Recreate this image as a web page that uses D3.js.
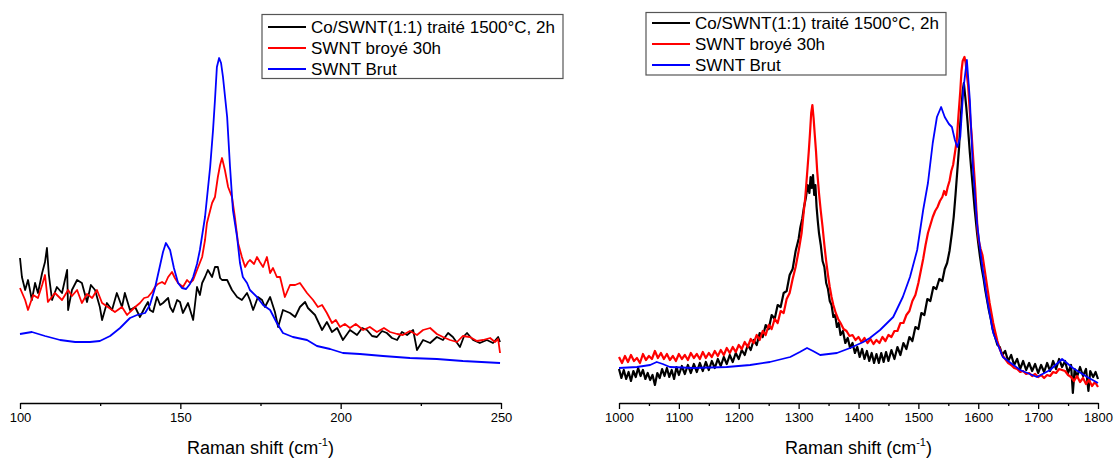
<!DOCTYPE html>
<html><head><meta charset="utf-8">
<script src="https://cdn.jsdelivr.net/npm/d3@7"></script>
<style>body{margin:0;background:#fff}svg{display:block}</style>
</head><body>
<svg id="chart" width="1119" height="459"></svg>
<script>
// ---------- DATA ----------
const seriesNames = ["Co/SWNT(1:1) traité 1500°C, 2h", "SWNT broyé 30h", "SWNT Brut"];
const seriesColors = ["#000000", "#ff0000", "#0000ff"];

const leftTicks = [100, 150, 200, 250];
const leftMinorTicks = [125, 175, 225];
const rightTicks = [1000, 1100, 1200, 1300, 1400, 1500, 1600, 1700, 1800];
const rightMinorTicks = [1050, 1150, 1250, 1350, 1450, 1550, 1650, 1750];

// Low-frequency region (RBM), [Raman shift, intensity a.u.]
const rbmBlack = [[100.0,145],[100.6,126],[101.6,113],[102.5,123],[103.7,103],[104.7,120],[105.6,110],[106.9,130],[107.8,141],[108.4,155],[109.0,128],[110.0,103],[111.5,116],[113.1,110],[114.7,133],[115.0,93],[116.2,113],[117.8,123],[119.3,120],[120.9,101],[122.1,118],[123.4,113],[124.9,96],[125.6,83],[127.1,100],[128.7,93],[130.2,110],[131.8,96],[132.7,110],[134.3,93],[135.9,96],[137.4,86],[139.0,96],[139.9,101],[140.5,93],[141.5,91],[142.7,106],[143.7,98],[144.6,100],[146.2,105],[146.8,96],[147.7,91],[149.0,103],[149.9,101],[150.8,90],[152.4,100],[154.0,83],[155.2,116],[156.1,108],[156.8,120],[157.7,126],[158.6,133],[159.9,126],[160.8,136],[161.7,136],[162.4,125],[163.0,123],[164.6,123],[165.5,117],[166.1,113],[167.7,106],[169.2,103],[170.8,110],[171.7,103],[172.7,93],[174.2,106],[175.5,103],[176.4,96],[178.0,106],[179.5,91],[180.5,76],[182.0,93],[184.2,90],[185.8,86],[187.3,96],[188.9,101],[189.8,95],[192.0,88],[194.2,73],[195.7,81],[197.3,71],[198.9,75],[200.7,63],[202.9,73],[205.1,68],[206.7,75],[208.2,73],[209.8,67],[211.3,66],[212.9,72],[214.4,70],[216.0,65],[217.6,63],[219.1,71],[220.7,68],[222.6,73],[223.8,53],[225.7,63],[227.9,60],[230.0,66],[231.9,63],[233.5,70],[235.0,66],[237.2,56],[238.5,67],[239.4,70],[241.3,63],[243.4,60],[245.6,63],[247.5,60],[249.1,66],[249.7,61]];

const rbmRed = [[100.0,115],[101.6,103],[102.5,93],[104.1,108],[105.6,105],[106.9,118],[107.8,128],[108.7,101],[110.9,110],[113.1,103],[115.0,113],[116.2,107],[117.8,113],[119.3,100],[120.9,109],[122.5,105],[124.0,113],[125.6,100],[127.4,96],[129.6,91],[131.8,96],[133.4,88],[134.3,91],[135.9,96],[137.4,100],[138.7,105],[139.9,106],[141.2,111],[142.1,116],[143.0,119],[144.3,121],[145.2,119],[146.2,126],[147.4,131],[148.3,125],[149.3,120],[150.8,116],[152.1,123],[153.0,120],[154.0,123],[155.2,133],[156.8,146],[157.7,163],[158.3,180],[159.9,200],[160.8,206],[161.7,226],[162.4,238],[163.0,245],[163.9,233],[164.9,216],[166.1,206],[167.0,186],[168.0,160],[169.2,146],[170.2,136],[171.1,141],[171.7,143],[173.0,139],[173.9,146],[174.8,141],[175.8,136],[177.0,146],[178.0,130],[178.9,135],[180.1,126],[181.1,126],[182.6,106],[184.2,118],[185.8,118],[187.3,120],[189.5,110],[191.4,103],[192.9,96],[194.2,98],[195.7,90],[197.3,80],[198.5,83],[199.8,76],[201.3,79],[202.9,75],[204.7,79],[207.0,73],[209.1,76],[211.3,71],[213.5,75],[215.4,71],[217.6,69],[219.4,68],[221.6,72],[223.8,68],[225.7,73],[227.9,75],[230.0,69],[231.9,66],[234.1,63],[236.3,61],[238.1,67],[240.3,66],[242.5,62],[244.4,63],[246.6,65],[248.1,61],[249.1,64],[249.7,50]];

const rbmBlue = [[100.0,69],[103.7,71],[107.8,67],[112.5,63],[117.2,61],[121.8,61],[124.9,62],[128.1,67],[131.2,75],[134.3,85],[136.5,88],[139.0,90],[140.5,98],[142.1,115],[143.7,138],[144.6,151],[145.5,160],[146.8,153],[148.0,135],[149.3,120],[150.5,115],[151.8,114],[153.0,119],[154.0,126],[155.2,139],[156.1,153],[157.7,186],[159.3,236],[160.2,273],[160.8,303],[161.4,336],[162.1,345],[162.7,340],[163.3,326],[164.6,286],[165.5,236],[166.4,193],[167.7,166],[168.6,140],[169.5,126],[170.8,120],[171.7,113],[173.9,106],[175.8,98],[178.0,93],[180.1,80],[182.0,70],[185.1,66],[189.5,63],[192.6,57],[196.7,54],[200.7,50],[206.0,49],[213.2,47],[221.6,45],[230.0,44],[238.1,42],[249.7,40]];

// D / G band region, [Raman shift, intensity a.u.]
const dgBlack = [[1000,34],[1004,25],[1008,33],[1012,24],[1016,31],[1020,22],[1024,32],[1028,26],[1032,35],[1036,27],[1040,33],[1044,24],[1048,30],[1052,23],[1056,28],[1060,18],[1064,30],[1068,25],[1072,34],[1076,27],[1080,35],[1084,26],[1088,33],[1092,24],[1096,36],[1100,28],[1105,37],[1110,29],[1115,38],[1120,30],[1125,39],[1130,31],[1135,40],[1140,32],[1145,41],[1150,33],[1155,42],[1160,35],[1165,44],[1170,37],[1175,46],[1180,39],[1185,48],[1190,41],[1195,50],[1200,44],[1205,53],[1210,48],[1215,58],[1220,53],[1225,63],[1230,58],[1235,70],[1240,66],[1245,78],[1250,74],[1255,88],[1260,84],[1265,98],[1270,96],[1275,110],[1280,112],[1285,128],[1290,134],[1295,152],[1300,164],[1303,176],[1306,184],[1309,196],[1312,205],[1315,218],[1318,210],[1320,226],[1322,215],[1324,228],[1326,208],[1328,218],[1330,196],[1332,182],[1334,170],[1337,158],[1340,142],[1343,136],[1346,120],[1349,114],[1352,102],[1355,98],[1358,86],[1361,88],[1364,76],[1367,80],[1370,68],[1374,72],[1378,60],[1382,65],[1386,55],[1390,60],[1394,50],[1398,56],[1402,46],[1406,54],[1410,44],[1414,52],[1418,42],[1422,50],[1426,40],[1430,49],[1434,40],[1438,50],[1442,41],[1446,51],[1450,42],[1455,53],[1460,44],[1465,56],[1470,48],[1475,60],[1480,54],[1485,66],[1490,62],[1495,76],[1500,74],[1505,90],[1510,88],[1515,104],[1520,102],[1525,116],[1530,114],[1535,124],[1540,122],[1544,134],[1548,140],[1552,152],[1556,170],[1559,186],[1562,208],[1565,232],[1568,256],[1570,280],[1572,296],[1574,312],[1576,320],[1578,308],[1580,296],[1582,282],[1584,266],[1586,250],[1588,236],[1590,222],[1592,208],[1594,194],[1596,182],[1598,170],[1600,160],[1603,146],[1606,134],[1609,124],[1612,112],[1615,102],[1618,92],[1621,84],[1624,74],[1628,66],[1632,58],[1636,56],[1640,48],[1645,52],[1650,42],[1655,48],[1660,38],[1665,44],[1670,34],[1675,42],[1680,33],[1685,40],[1690,32],[1695,39],[1700,30],[1705,38],[1710,31],[1715,40],[1720,32],[1725,42],[1730,34],[1735,44],[1740,36],[1745,42],[1750,30],[1755,38],[1758,10],[1761,34],[1765,26],[1770,36],[1775,27],[1780,34],[1784,12],[1787,32],[1792,26],[1796,31],[1800,24]];

const dgRed = [[1000,46],[1005,40],[1010,47],[1015,41],[1020,48],[1025,42],[1030,45],[1035,40],[1040,49],[1045,43],[1050,47],[1055,44],[1060,52],[1065,45],[1070,50],[1075,44],[1080,49],[1085,43],[1090,47],[1095,42],[1100,49],[1105,44],[1110,48],[1115,43],[1120,50],[1125,45],[1130,49],[1135,44],[1140,51],[1145,45],[1150,50],[1155,46],[1160,52],[1165,47],[1170,53],[1175,48],[1180,55],[1185,50],[1190,56],[1195,51],[1200,58],[1205,54],[1210,61],[1215,56],[1220,64],[1225,60],[1230,68],[1235,63],[1240,72],[1245,68],[1250,78],[1255,74],[1260,84],[1265,80],[1270,92],[1275,90],[1280,104],[1285,110],[1290,124],[1295,136],[1300,152],[1305,170],[1308,188],[1311,205],[1314,228],[1317,252],[1319,270],[1321,290],[1323,298],[1325,285],[1327,268],[1329,252],[1331,232],[1334,210],[1337,192],[1340,176],[1343,158],[1346,142],[1349,128],[1352,116],[1355,106],[1358,98],[1362,90],[1366,84],[1370,80],[1375,74],[1380,72],[1385,67],[1390,68],[1395,63],[1400,66],[1405,61],[1410,65],[1415,60],[1420,64],[1425,59],[1430,63],[1435,60],[1440,66],[1445,62],[1450,68],[1455,66],[1460,72],[1465,72],[1470,80],[1475,80],[1480,88],[1485,92],[1490,102],[1495,108],[1500,120],[1504,132],[1508,144],[1512,158],[1516,170],[1520,178],[1524,186],[1528,192],[1532,196],[1536,202],[1540,206],[1543,212],[1546,208],[1549,216],[1552,222],[1555,232],[1558,238],[1561,250],[1564,262],[1567,288],[1570,312],[1572,332],[1574,342],[1577,346],[1579,340],[1581,328],[1583,318],[1585,300],[1587,282],[1589,268],[1591,250],[1593,232],[1595,214],[1597,192],[1599,172],[1601,162],[1604,154],[1607,148],[1610,136],[1613,124],[1616,112],[1619,100],[1622,90],[1625,80],[1628,72],[1632,62],[1636,54],[1640,48],[1645,44],[1650,40],[1655,38],[1660,35],[1665,34],[1670,31],[1675,32],[1680,29],[1685,30],[1690,27],[1695,29],[1700,26],[1705,28],[1710,25],[1715,28],[1720,27],[1725,31],[1730,30],[1735,34],[1740,33],[1745,32],[1750,28],[1755,26],[1760,22],[1765,27],[1770,21],[1775,25],[1780,19],[1785,23],[1790,17],[1795,21],[1800,16]];

const dgBlue = [[1000,35],[1030,36],[1052,38],[1063,41],[1073,39],[1085,36],[1124,35],[1180,36],[1219,38],[1252,41],[1286,46],[1302,51],[1314,55],[1324,52],[1336,48],[1364,50],[1386,55],[1408,61],[1419,65],[1436,73],[1458,86],[1474,106],[1486,126],[1498,153],[1508,193],[1516,220],[1524,260],[1531,286],[1538,296],[1544,286],[1551,279],[1556,276],[1561,263],[1565,256],[1570,266],[1575,313],[1581,343],[1586,303],[1591,236],[1598,180],[1606,140],[1615,103],[1625,70],[1641,46],[1670,33],[1698,26],[1720,33],[1740,44],[1758,35],[1782,26],[1800,20]];

// ---------- DRAWING ----------
const svg = d3.select("#chart");
const FONT = "'Liberation Sans', Arial, sans-serif";
const axisY = 403;
const y = d3.scaleLinear().domain([0, 350]).range([axisY, axisY - 350]);

function panel(cfg) {
  const x = d3.scaleLinear().domain(cfg.domain).range(cfg.range);
  const g = svg.append("g");
  const line = d3.line().x(d => x(d[0])).y(d => y(d[1]));
  cfg.series.forEach((s, i) => {
    g.append("path").datum(s).attr("d", line)
      .attr("fill", "none").attr("stroke", seriesColors[i])
      .attr("stroke-width", cfg.lw[i]).attr("stroke-linejoin", "round");
  });
  // minor ticks
  g.append("g").attr("transform", `translate(0,${axisY})`)
    .call(d3.axisBottom(x).tickValues(cfg.minor).tickSize(3).tickSizeOuter(0).tickFormat(""))
    .call(a => a.select(".domain").remove())
    .call(a => a.selectAll("line").attr("stroke-width", 1.3));
  // major ticks
  const ax = g.append("g").attr("transform", `translate(0,${axisY})`)
    .call(d3.axisBottom(x).tickValues(cfg.ticks).tickSize(6).tickSizeOuter(0).tickPadding(4).tickFormat(d3.format("d")));
  ax.select(".domain").attr("stroke-width", 1.3);
  ax.selectAll("line").attr("stroke-width", 1.3);
  ax.selectAll("text").attr("font-family", FONT).attr("font-size", 13).attr("fill", "#000");
  // axis title
  const cx = (cfg.range[0] + cfg.range[1]) / 2;
  const t = g.append("text").attr("x", cx).attr("y", 454).attr("text-anchor", "middle")
    .attr("font-family", FONT).attr("font-size", 18).attr("fill", "#000");
  t.append("tspan").text("Raman shift (cm");
  t.append("tspan").attr("font-size", 11).attr("dy", -8).text("-1");
  t.append("tspan").attr("dy", 8).text(")");
  // legend
  const L = cfg.legend;
  g.append("rect").attr("x", L.x).attr("y", L.y).attr("width", L.w).attr("height", L.h)
    .attr("fill", "#fff").attr("stroke", "#555").attr("stroke-width", 1.2);
  seriesNames.forEach((n, i) => {
    const ry = L.rows[i];
    g.append("line").attr("x1", L.x + 6).attr("x2", L.x + 44).attr("y1", ry).attr("y2", ry)
      .attr("stroke", seriesColors[i]).attr("stroke-width", 1.8);
    g.append("text").attr("x", L.x + 49).attr("y", ry + 6).text(n)
      .attr("font-family", FONT).attr("font-size", 17).attr("fill", "#000");
  });
}

panel({
  domain: [100, 250], range: [20, 501], ticks: leftTicks, minor: leftMinorTicks,
  series: [rbmBlack, rbmRed, rbmBlue], lw: [1.8, 1.8, 1.8],
  legend: { x: 262, y: 14.5, w: 301, h: 64, rows: [27, 48, 69] }
});
panel({
  domain: [1000, 1800], range: [619, 1098], ticks: rightTicks, minor: rightMinorTicks,
  series: [dgBlack, dgRed, dgBlue], lw: [2.2, 2.2, 1.8],
  legend: { x: 646, y: 12.5, w: 300, h: 62.5, rows: [23, 44, 65] }
});
</script>
</body></html>
